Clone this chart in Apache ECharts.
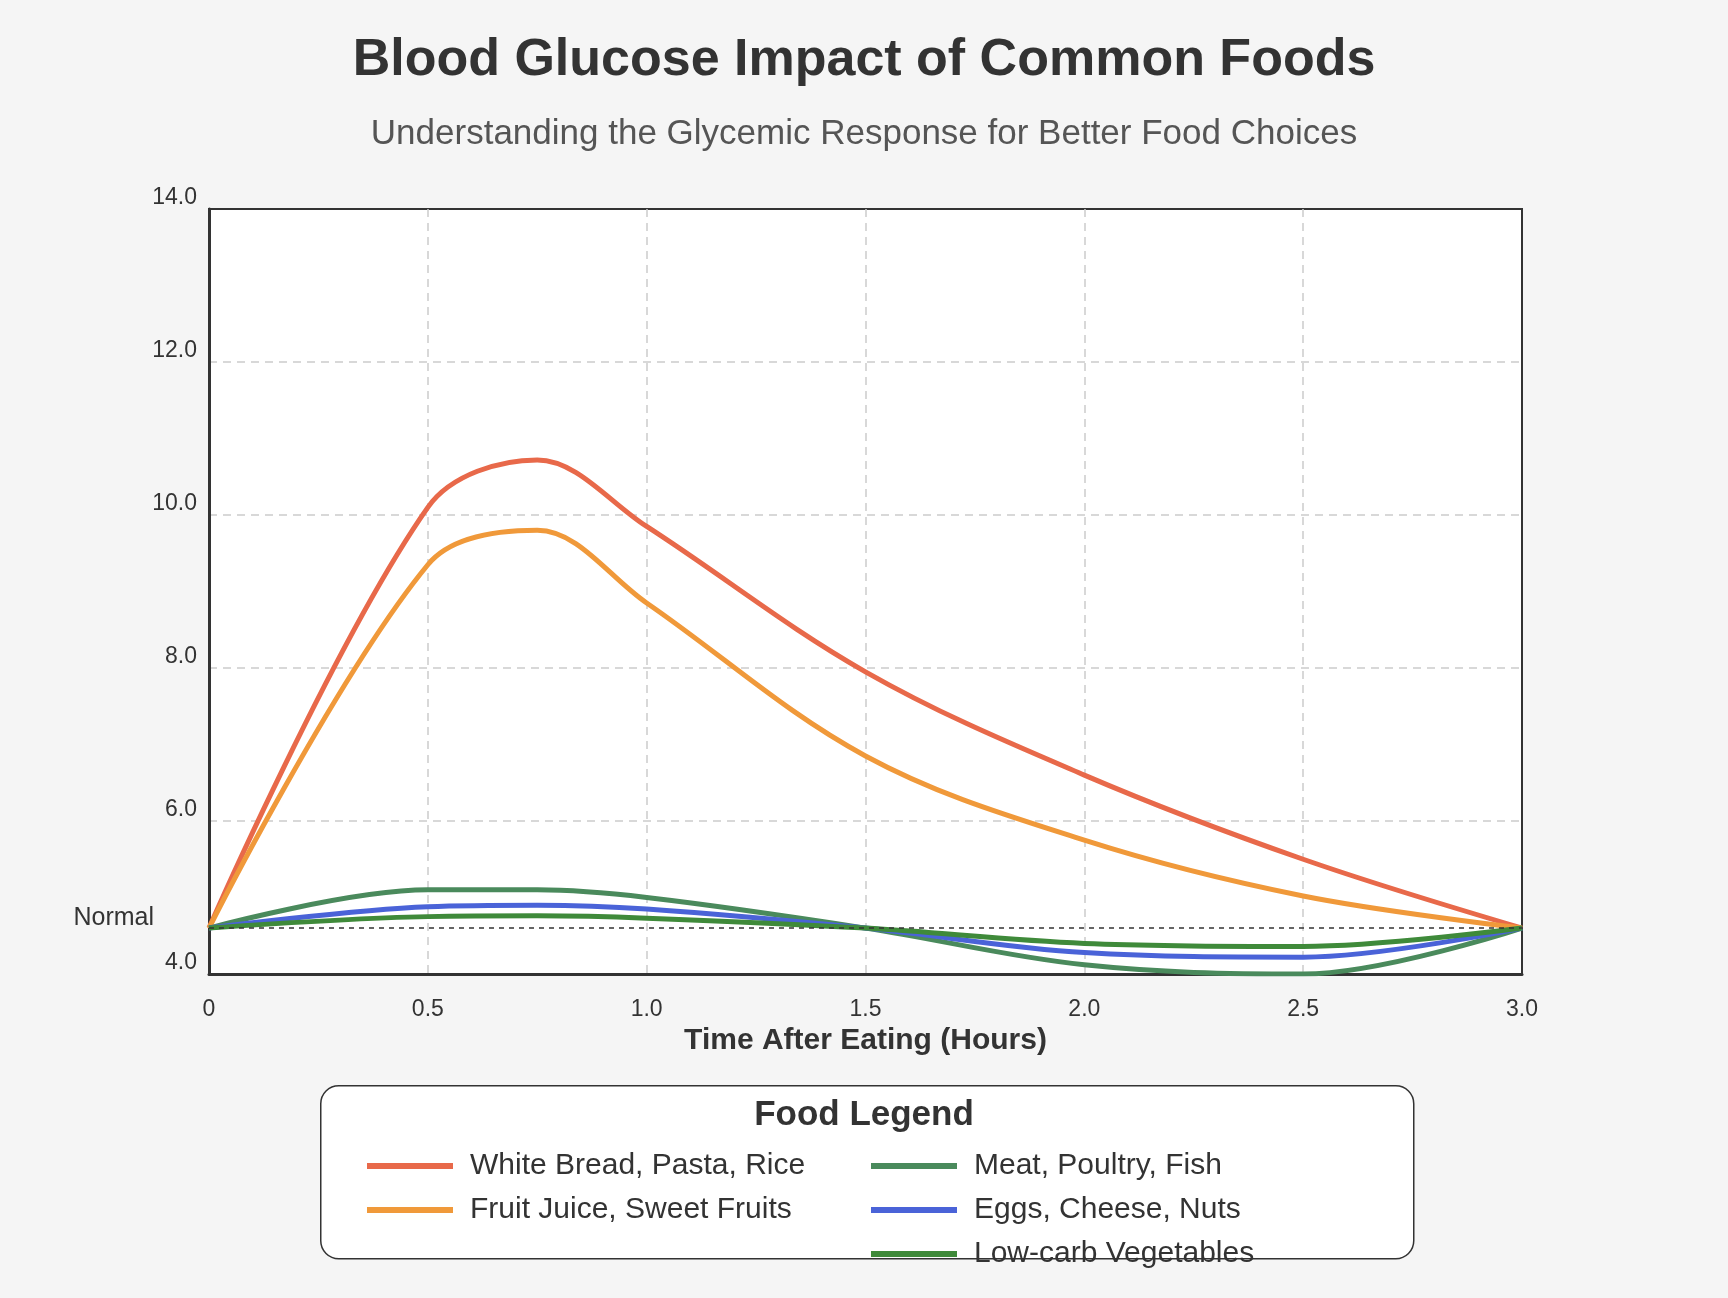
<!DOCTYPE html>
<html><head><meta charset="utf-8">
<script src="https://cdn.jsdelivr.net/npm/echarts@6/dist/echarts.min.js"></script>
<style>html,body{margin:0;background:#f5f5f5}#c{width:1728px;height:1298px}</style>
</head><body><div id="c"></div>
<script>
const hours = [0,0.5,0.75,1.0,1.5,2.0,2.5,3.0];
const whiteBread = [4.6,10.1,10.72,9.85,7.95,6.6,5.5,4.6];
const fruitJuice = [4.6,9.35,9.8,8.85,6.85,5.75,5.02,4.6];
const meat = [4.6,5.1,5.1,5.0,4.6,4.12,4.0,4.6];
const eggs = [4.6,4.88,4.9,4.85,4.6,4.28,4.22,4.6];
const veg = [4.6,4.75,4.76,4.73,4.6,4.4,4.36,4.6];
const names = ['White Bread, Pasta, Rice','Fruit Juice, Sweet Fruits','Meat, Poultry, Fish','Eggs, Cheese, Nuts','Low-carb Vegetables'];
const colors = ['#E8694A','#F0993A','#4A8A5C','#4A63D8','#3F8A3A'];
const normal = 4.6;
const all = [whiteBread,fruitJuice,meat,eggs,veg];
const F = 'Liberation Sans, Arial, sans-serif';
const chart = echarts.init(document.getElementById('c'));
const series = all.map((d,i)=>({
  name:names[i], type:'line', smooth:0.35, symbol:'none',
  data:d.map((v,j)=>[hours[j],v]),
  lineStyle:{width:5,color:colors[i]}, itemStyle:{color:colors[i]},
  markLine: i===0 ? {silent:true,symbol:'none',data:[{yAxis:normal}],
    lineStyle:{type:[5,5],color:'#333',width:1.5},
    label:{position:'start',formatter:'Normal',fontSize:25,color:'#333',distance:55,offset:[0,-10]}} : undefined
}));
chart.setOption({
  backgroundColor:'#f5f5f5',
  textStyle:{fontFamily:F},
  title:[{text:'Blood Glucose Impact of Common Foods',left:'center',top:30,
    textStyle:{fontSize:52,fontWeight:'bold',color:'#333',fontFamily:F}},
    {text:'Understanding the Glycemic Response for Better Food Choices',left:'center',top:112,
    textStyle:{fontSize:35,fontWeight:'normal',color:'#555',fontFamily:F}}],
  grid:{left:209,right:206,top:209,bottom:324,show:true,borderColor:'#333',borderWidth:2,backgroundColor:'#fff'},
  xAxis:{type:'value',min:0,max:3,interval:0.5,
    name:'Time After Eating (Hours)',nameLocation:'middle',nameGap:52,
    nameTextStyle:{fontSize:30,fontWeight:'bold',color:'#333'},
    axisLine:{lineStyle:{color:'#333',width:3}},axisTick:{show:false},
    axisLabel:{fontSize:23,color:'#333',margin:24,formatter:v=>v===0?'0':v.toFixed(1)},
    splitLine:{showMaxLine:false,lineStyle:{type:[8,6],color:'#ccc',width:1.5}}},
  yAxis:{type:'value',min:4,max:14,interval:2,
    axisLine:{show:true,lineStyle:{color:'#333',width:3}},axisTick:{show:false},
    axisLabel:{fontSize:23,color:'#333',margin:12,formatter:v=>v.toFixed(1),verticalAlign:'bottom'},
    splitLine:{showMaxLine:false,lineStyle:{type:[8,6],color:'#ccc',width:1.5}}},
  graphic:[{type:'rect',left:320,top:1085,shape:{width:1093,height:173,r:18},
    style:{fill:'#fff',stroke:'#333',lineWidth:1.5},z:-1},
    {type:'text',left:'center',top:1098,style:{text:'Food Legend',fontSize:35,fontWeight:'bold',fill:'#333',fontFamily:F}}],
  legend:[{data:names.slice(0,2),orient:'vertical',left:362,top:1146,itemGap:14,itemWidth:86,itemHeight:6,
      icon:'rect',textStyle:{fontSize:30,color:'#333',padding:[0,0,0,12]}},
    {data:names.slice(2),orient:'vertical',left:866,top:1146,itemGap:14,itemWidth:86,itemHeight:6,
      icon:'rect',textStyle:{fontSize:30,color:'#333',padding:[0,0,0,12]}}],
  series
});
</script></body></html>
